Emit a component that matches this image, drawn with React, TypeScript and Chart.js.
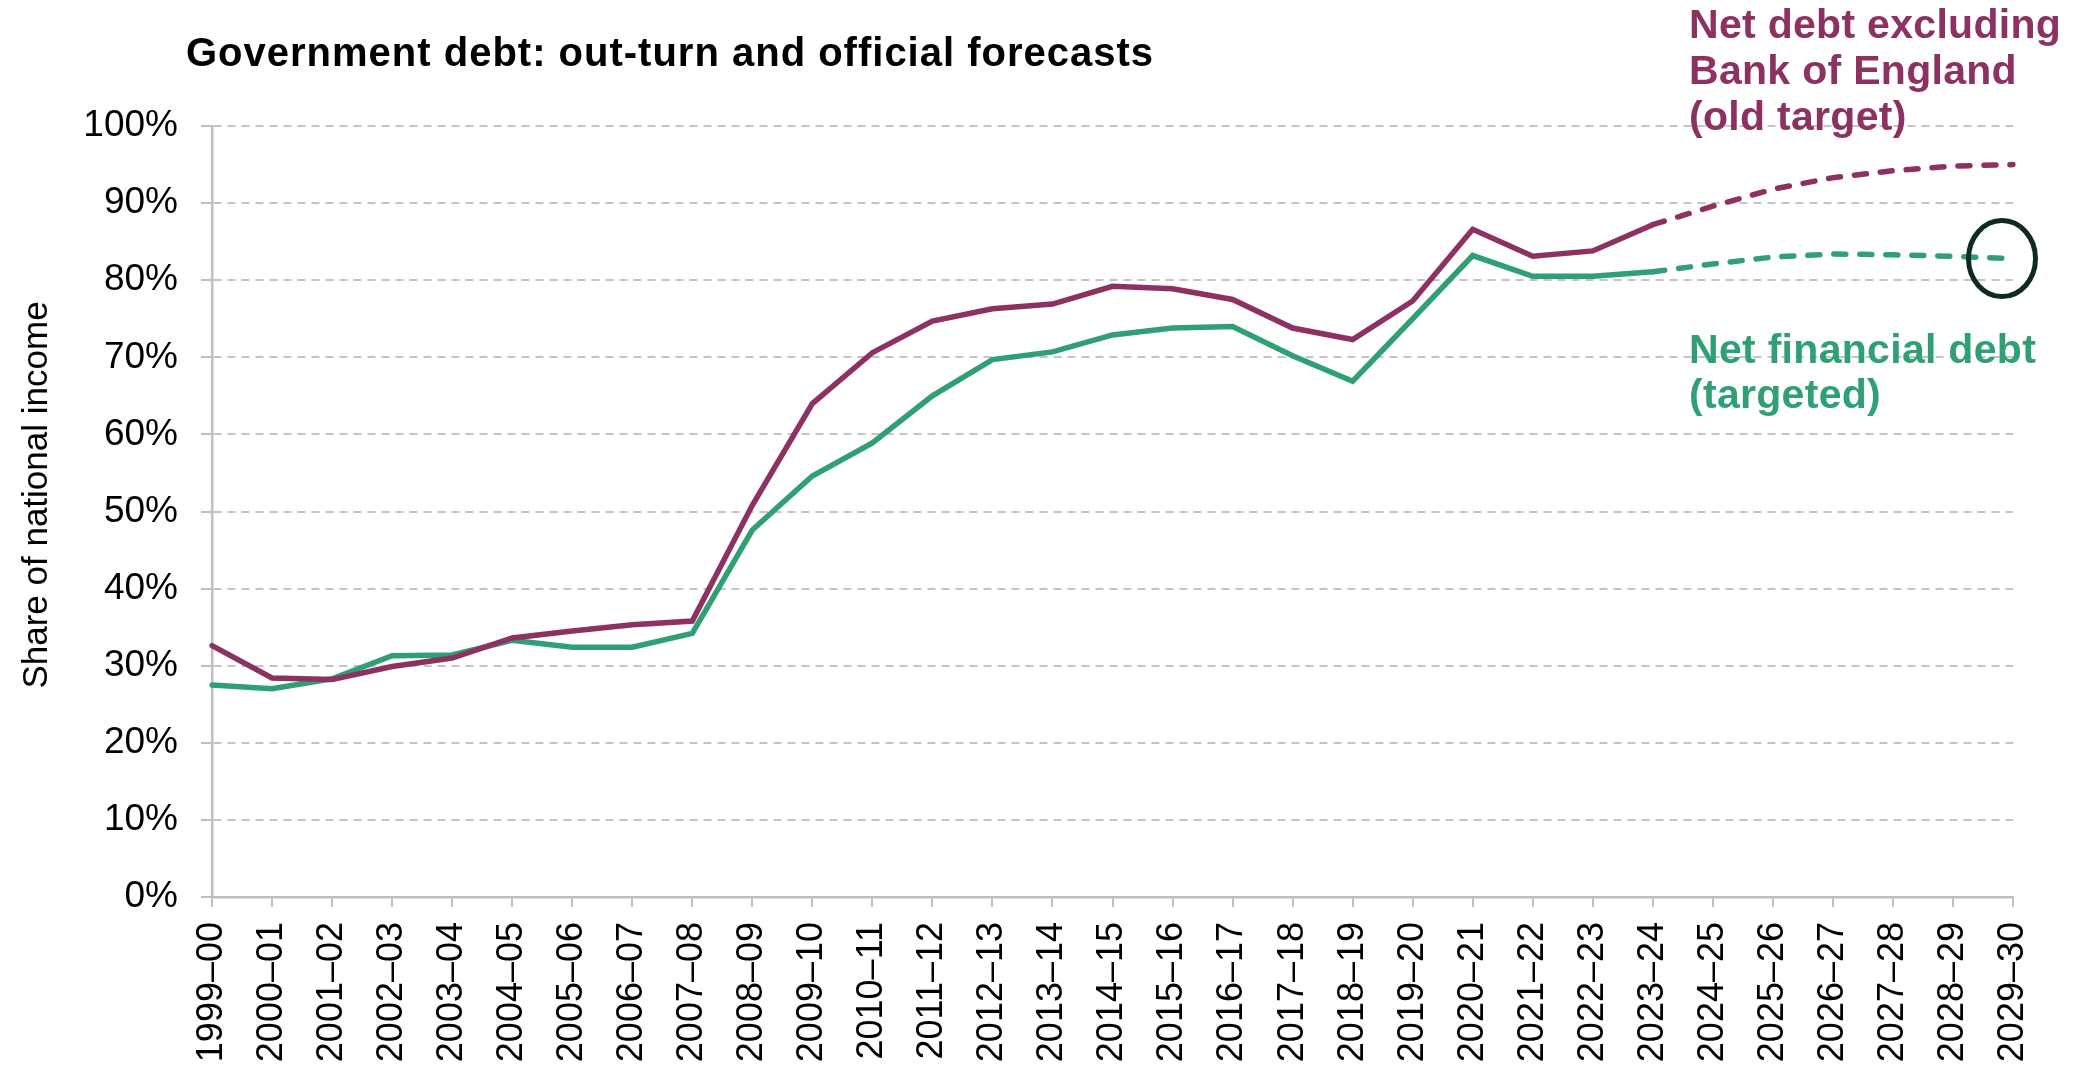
import React, { useEffect, useRef } from 'react';
import { Chart, registerables } from 'chart.js';

Chart.register(...registerables);

const years = [
  '1999–00', '2000–01', '2001–02', '2002–03', '2003–04', '2004–05', '2005–06', '2006–07',
  '2007–08', '2008–09', '2009–10', '2010–11', '2011–12', '2012–13', '2013–14', '2014–15',
  '2015–16', '2016–17', '2017–18', '2018–19', '2019–20', '2020–21', '2021–22', '2022–23',
  '2023–24', '2024–25', '2025–26', '2026–27', '2027–28', '2028–29', '2029–30',
];

// Net debt excluding Bank of England (old target), % of national income
const netDebtExBoE = [
  32.6, 28.4, 28.2, 29.9, 31.0, 33.6, 34.5, 35.3, 35.8, 50.8, 64.0, 70.6, 74.7, 76.3, 76.9, 79.2,
  78.9, 77.5, 73.8, 72.3, 77.3, 86.6, 83.1, 83.8, 87.2, 89.6, 91.8, 93.3, 94.2, 94.8, 95.0,
];

// Net financial debt (targeted), % of national income
const netFinancialDebt = [
  27.5, 27.0, 28.3, 31.3, 31.4, 33.3, 32.4, 32.4, 34.2, 47.6, 54.6, 58.9, 65.0, 69.7, 70.7, 72.9,
  73.8, 74.0, 70.2, 66.9, 75.0, 83.2, 80.5, 80.5, 81.1, 82.1, 83.0, 83.4, 83.3, 83.1, 82.8,
];

const yTickValues = [0, 10, 20, 30, 40, 50, 60, 70, 80, 90, 100];

// Index of last out-turn year (2023–24); later years are forecasts (dashed)
const FORECAST_START = 24;

const PURPLE = '#8D3163';
const GREEN = '#2FA074';
const CIRCLE = '#0E2B1F';
const GRID = '#C4C4C4';
const AXIS = '#BFBFBF';
const FONT = '"Liberation Sans", Arial, Helvetica, sans-serif';

const titleText = 'Government debt: out-turn and official forecasts';
const purpleLabel = ['Net debt excluding', 'Bank of England', '(old target)'];
const greenLabel = ['Net financial debt', '(targeted)'];
const yTitle = 'Share of national income';

const overlayPlugin = {
  id: 'overlay',
  afterDraw(chart: any) {
    const ctx = chart.ctx as CanvasRenderingContext2D;
    const xs = chart.scales.x;
    const ys = chart.scales.y;
    ctx.save();
    // Title
    ctx.fillStyle = '#000';
    ctx.font = `bold 40px ${FONT}`;
    (ctx as any).letterSpacing = '1px';
    ctx.textAlign = 'left';
    ctx.textBaseline = 'alphabetic';
    ctx.fillText(titleText, 186, 66);

    // Series labels
    ctx.font = `bold 41px ${FONT}`;
    (ctx as any).letterSpacing = '0.3px';
    ctx.fillStyle = PURPLE;
    purpleLabel.forEach((t, i) => ctx.fillText(t, 1689, 38 + i * 46));
    ctx.fillStyle = GREEN;
    greenLabel.forEach((t, i) => ctx.fillText(t, 1689, 363 + i * 45));
    (ctx as any).letterSpacing = '0px';

    // Y axis title
    ctx.save();
    ctx.translate(37, 495);
    ctx.rotate(-Math.PI / 2);
    ctx.font = `35px ${FONT}`;
    ctx.fillStyle = '#000';
    ctx.textAlign = 'center';
    ctx.textBaseline = 'middle';
    ctx.fillText(yTitle, 0, 0);
    ctx.restore();

    // Circle around the final forecast of the targeted measure
    const last = netFinancialDebt.length - 1;
    const cx = xs.getPixelForValue(last) - 11;
    const cy = ys.getPixelForValue(netFinancialDebt[last]);
    ctx.beginPath();
    ctx.ellipse(cx, cy, 33.5, 38, 0, 0, Math.PI * 2);
    ctx.lineWidth = 5;
    ctx.strokeStyle = CIRCLE;
    ctx.setLineDash([]);
    ctx.stroke();
    ctx.restore();
  },
};

export default function App() {
  const ref = useRef<HTMLCanvasElement | null>(null);

  useEffect(() => {
    if (!ref.current) return;
    const dashFn = (c: any) => (c.p0DataIndex >= FORECAST_START ? [12, 14] : undefined);
    const chart = new Chart(ref.current, {
      type: 'line',
      data: {
        labels: years,
        datasets: [
          {
            label: 'Net debt excluding Bank of England (old target)',
            data: netDebtExBoE,
            borderColor: PURPLE,
            borderWidth: 5.5,
            pointRadius: 0,
            tension: 0,
            borderCapStyle: 'round',
            borderJoinStyle: 'miter',
            segment: { borderDash: dashFn },
          },
          {
            label: 'Net financial debt (targeted)',
            data: netFinancialDebt,
            borderColor: GREEN,
            borderWidth: 5.5,
            pointRadius: 0,
            tension: 0,
            borderCapStyle: 'round',
            borderJoinStyle: 'miter',
            segment: { borderDash: dashFn },
          },
        ],
      },
      options: {
        animation: false,
        responsive: false,
        devicePixelRatio: 1,
        layout: { padding: { left: 0, top: 126, right: 64, bottom: 0 } },
        plugins: {
          legend: { display: false },
          tooltip: { enabled: false },
          title: { display: false },
        },
        scales: {
          x: {
            type: 'category',
            offset: false,
            afterFit: (s: any) => {
              s.height = 170;
            },
            grid: {
              display: true,
              drawOnChartArea: false,
              drawTicks: true,
              tickLength: 10,
              color: AXIS,
              lineWidth: 2,
            },
            border: { display: true, color: AXIS, width: 2.5 },
            ticks: {
              autoSkip: false,
              minRotation: 90,
              maxRotation: 90,
              padding: 15,
              color: '#000',
              font: { family: FONT, size: 36 },
            },
          },
          y: {
            min: 0,
            max: 100,
            afterFit: (s: any) => {
              s.width = 212;
            },
            afterBuildTicks: (s: any) => {
              s.ticks = yTickValues.map((v) => ({ value: v }));
            },
            grid: {
              color: GRID,
              lineWidth: 2,
              tickLength: 11,
              tickColor: AXIS,
              tickBorderDash: [],
            },
            border: { display: true, color: AXIS, width: 2.5, dash: [8, 6] },
            ticks: {
              padding: 23,
              color: '#000',
              font: { family: FONT, size: 37 },
              callback: (v: any) => `${v}%`,
            },
          },
        },
      },
      plugins: [overlayPlugin],
    });
    return () => chart.destroy();
  }, []);

  return (
    <div style={{ position: 'absolute', left: 0, top: 0, width: 2077, height: 1067, background: '#fff' }}>
      <canvas ref={ref} width={2077} height={1067} style={{ display: 'block' }} />
    </div>
  );
}
